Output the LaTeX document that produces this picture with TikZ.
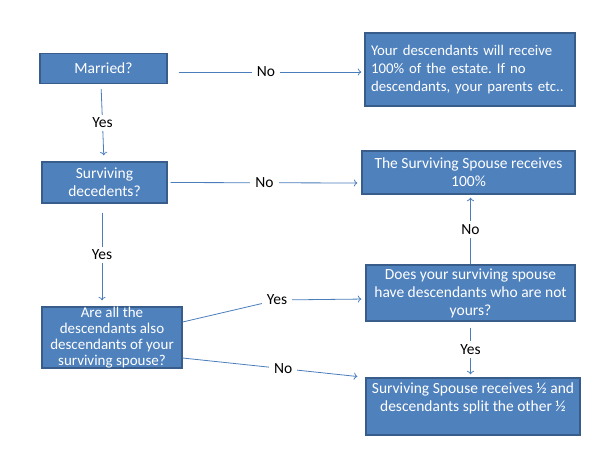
\documentclass[tikz,border=0pt]{standalone}
\usepackage{fontspec}
\setmainfont{Carlito}
\usetikzlibrary{arrows.meta}
\frenchspacing
\definecolor{boxfill}{HTML}{4F81BD}
\definecolor{boxline}{HTML}{385D8A}
\definecolor{arrline}{HTML}{4A7EBB}
\begin{document}
\begin{tikzpicture}[x=1pt,y=-1pt,
  box/.style={draw=boxline, line width=1.3pt, fill=boxfill, text=white,
    inner sep=0pt, font=\fontsize{15.5}{18}\selectfont},
  arr/.style={-{To[length=3.5pt,width=7pt]}, draw=arrline, line width=0.8pt},
  lbl/.style={fill=white, text=black, inner xsep=5pt, inner ysep=3pt, font=\fontsize{15.5}{18}\selectfont}]
\useasboundingbox (0,0) rectangle (596,461);
\node[box, minimum width=127pt, minimum height=30pt, align=center] (married) at (103.5,68.5)
{Married?};
\node[box, minimum width=210pt, minimum height=73pt, text width=198pt, align=left,
  font=\fontsize{14.8}{18}\selectfont] (estate) at (470,69.5)
{Your descendants will receive\\100\% of the estate. If no\\descendants, your parents etc..};
\node[box, minimum width=125pt, minimum height=41pt, align=center] (decedents) at (104.5,182.5)
{Surviving\\decedents?};
\node[box, minimum width=213pt, minimum height=43pt, align=center] (spouseall) at (468.5,172.5)
{The Surviving Spouse receives\\100\%};
\node[box, minimum width=140pt, minimum height=61pt, align=center,
  font=\fontsize{15}{16}\selectfont] (alldesc) at (112,337.5)
{Are all the\\descendants also\\descendants of your\\surviving spouse?};
\node[box, minimum width=209pt, minimum height=56pt, align=center] (otherdesc) at (470.5,293)
{Does your surviving spouse\\have descendants who are not\\yours?};
\node[box, minimum width=214pt, minimum height=57pt, align=center] (split) at (473,406.5)
{Surviving Spouse receives ½ and\\descendants split the other ½\\\mbox{}};
\draw[arr, shorten <=11pt, shorten >=3pt] ([yshift=-3.5pt]married.east) -- node[lbl]{No} ([yshift=-2.5pt]estate.west);
\draw[arr, shorten <=5pt, shorten >=6pt] ([xshift=-2.5pt]married.south) -- node[lbl]{Yes} ([xshift=-0.5pt]decedents.north);
\draw[arr, shorten <=3pt, shorten >=4pt] (decedents.east) -- node[lbl]{No} ([yshift=-10.5pt]spouseall.west);
\draw[arr, shorten <=9pt, shorten >=6pt] ([xshift=-2.5pt]decedents.south) -- node[lbl]{Yes} ([xshift=-10pt]alldesc.north);
\draw[arr, shorten >=4pt] ([yshift=15.5pt]alldesc.east) -- (277,300) node[lbl]{Yes} -- ([yshift=-6pt]otherdesc.west);
\draw[arr, shorten >=8pt] ([yshift=-20.5pt]alldesc.east) -- node[lbl, pos=0.55]{No} (split.north west);
\draw[arr, shorten >=3pt] (otherdesc.north) -- node[lbl]{No} (spouseall.south -| otherdesc.north);
\draw[arr, shorten <=6pt, shorten >=3pt] (otherdesc.south) -- node[lbl]{Yes} (split.north -| otherdesc.south);
\end{tikzpicture}
\end{document}
